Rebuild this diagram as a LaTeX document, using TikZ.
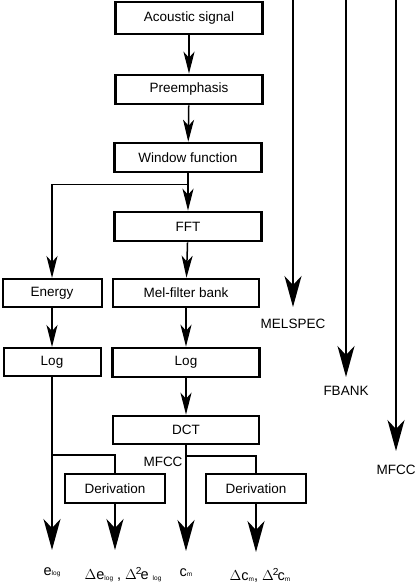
\documentclass[tikz,border=0pt]{standalone}
\usepackage{fontspec}
\setmainfont{Liberation Sans}
\usetikzlibrary{arrows.meta,calc,positioning}

\newcommand{\lowsub}[1]{\raisebox{-0.8pt}{\fontsize{6.5}{6.5}\selectfont #1}}

\begin{document}
\begin{tikzpicture}[x=1pt,y=-1pt,font=\fontsize{13.5}{15}\selectfont,
    >={Stealth[length=22pt,width=11pt,inset=6pt]},
    block/.style={draw,line width=2.6pt,minimum width=147pt,minimum height=29pt,inner sep=0pt},
    sblock/.style={draw,line width=2pt,minimum width=99pt,minimum height=28pt,inner sep=0pt},
    link/.style={line width=1.5pt},
    outlink/.style={line width=1.5pt,-{Stealth[length=31pt,width=17pt,inset=9pt]}},
    outlabel/.style={inner sep=0pt,font=\fontsize{14.5}{16}\selectfont}]
            \useasboundingbox (0,0) rectangle (415,583);

            %--- Main chain ---
            \node[block,minimum height=32pt] (sig) at (189,18) {Acoustic signal};
            \node[block] (pre) at (189,89.5) {Preemphasis};
            \node[block] (win) at (188,157.5) {Window function};
            \node[block] (fft) at (188,226.5) {FFT};
            \node[block,minimum width=146pt,minimum height=28pt] (mel) at (186,293) {Mel-filter bank};
            \node[block] (logM) at (186,362.5) {Log};
            \node[block,minimum width=146pt,minimum height=28pt] (dct) at (186,430) {DCT};
            \node[block,minimum width=100pt] (derC) at (256,488.5) {Derivation};

            %--- Energy branch ---
            \node[sblock] (energy) at (52,293) {Energy};
            \node[sblock,minimum width=97pt] (logE) at (52,362) {Log};
            \node[sblock,minimum width=100pt,minimum height=29pt] (derE) at (115,488.5) {Derivation};

            %--- Arrows between blocks ---
            \draw[link,->] (sig) -- (pre);
            \draw[link,->] (pre) -- (win);
            \draw[link,->] (win) -- (fft);
            \draw[link,->] (fft) -- (mel);
            \draw[link,->] (mel) -- (logM);
            \draw[link,->] (logM) -- (dct);
            \draw[link,->] (energy) -- (logE);

            \coordinate (wsplit) at ($(win.south)+(0,11)$);
            \draw[link,->] (wsplit) -| (energy.north);

            %--- Outputs at the bottom ---
            \coordinate (eTip) at (logE.south |- 0,550);
            \coordinate (dETip) at (derE.south |- 0,550);
            \coordinate (cTip) at (dct.south |- 0,551);
            \coordinate (dCTip) at (derC.south |- 0,552);
            \coordinate (esplit) at (logE.south |- 0,455);
            \coordinate (csplit) at (dct.south |- 0,456);

            \draw[outlink] (logE) -- (eTip);
            \draw[link] (esplit) -| (derE.north);
            \draw[outlink] (derE) -- (dETip);
            \draw[outlink] (dct) -- (cTip);
            \draw[link] (csplit) -| (derC.north);
            \draw[outlink] (derC) -- (dCTip);

            \node[outlabel,below=17pt of eTip] (elog) {e\lowsub{log}};
            \node[outlabel,below=17pt of dETip,xshift=8pt] (delog) {$\Delta$e\lowsub{log} , $\Delta$\kern-1pt\textsuperscript{2}\kern-1.5pt e \lowsub{log}};
            \node[outlabel,below=17pt of cTip] (cm) {c\lowsub{m}};
            \node[outlabel,below=16pt of dCTip,xshift=4pt] (dcm) {$\Delta$c\lowsub{m}, $\Delta$\kern-1pt\textsuperscript{2}\kern-1.5pt c\lowsub{m}};
            \node (mfccMid) at (163,462) {MFCC};

            %--- Feature streams on the right ---
            \coordinate (melTop) at (293,0);
            \coordinate (melTip) at (293,307);
            \coordinate (fbTop) at (346,0);
            \coordinate (fbTip) at (346,377);
            \coordinate (mfTop) at (396,0);
            \coordinate (mfTip) at (396,451);

            \draw[outlink] (melTop) -- (melTip);
            \draw[outlink] (fbTop) -- (fbTip);
            \draw[outlink] (mfTop) -- (mfTip);

            \node[below=12pt of melTip,inner sep=0pt] (melspec) {MELSPEC};
            \node[below=9pt of fbTip,inner sep=0pt] (fbank) {FBANK};
            \node[below=14pt of mfTip,inner sep=0pt] (mfcc) {MFCC};
          \end{tikzpicture}
\end{document}
